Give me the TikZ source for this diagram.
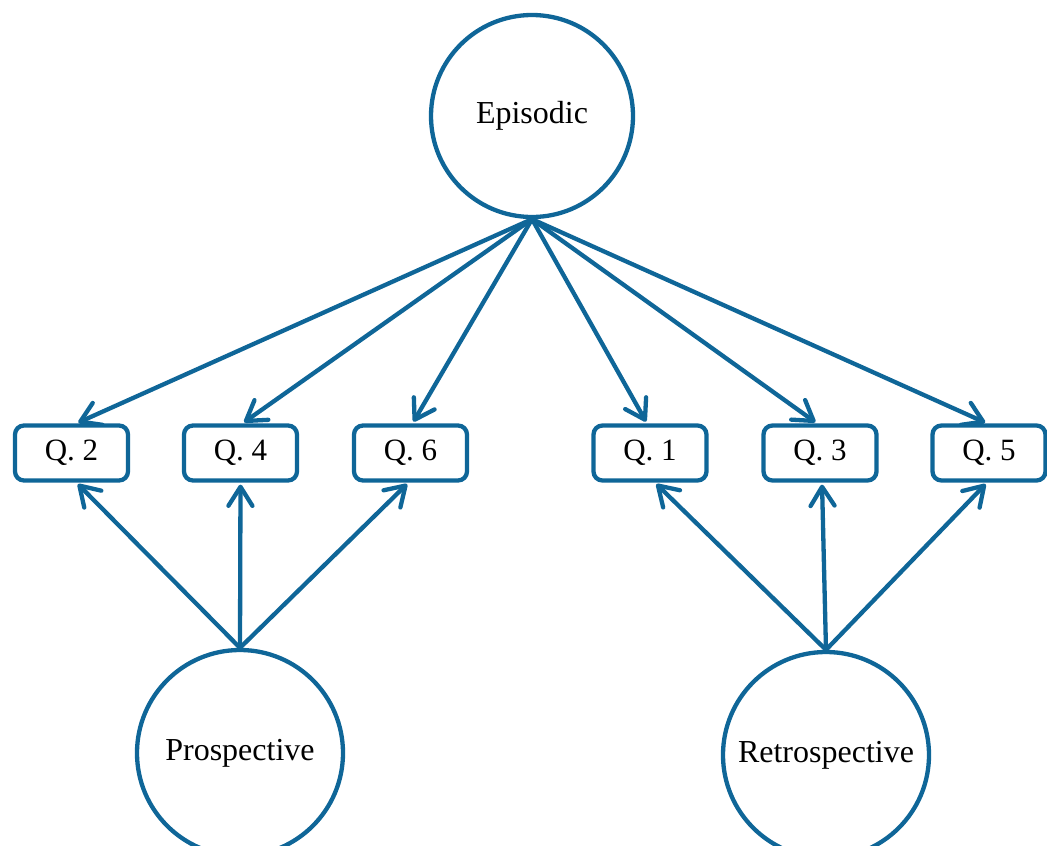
\documentclass[tikz,border=0pt]{standalone}
\usepackage{fontspec}
\setmainfont{Liberation Serif}
\usetikzlibrary{arrows.meta,calc}
\definecolor{sembl}{HTML}{0F6698}
\begin{document}
\begin{tikzpicture}[x=1pt,y=-1pt,
  latent/.style={circle,draw=sembl,line width=4.3pt,fill=white,inner sep=0pt,font=\fontsize{32}{36}\selectfont},
  obs/.style={rectangle,rounded corners=9pt,draw=sembl,line width=4.3pt,fill=white,minimum width=113pt,minimum height=55pt,inner sep=0pt,font=\fontsize{31}{36}\selectfont},
  load/.style={draw=sembl,line width=4.3pt,-{Straight Barb[length=19pt,width=24pt,round]},shorten >=2pt}]
\useasboundingbox (0,0) rectangle (1047,846);
\clip (0,0) rectangle (1047,846);
\node[latent,minimum size=202pt] (epi) at (532,116) {Episodic};
\node[latent,minimum size=206pt] (pro) at (240,753) {Prospective};
\node[latent,minimum size=206pt] (ret) at (826,755) {Retrospective};
\node[obs] (q2) at (71.5,453) {Q. 2};
\node[obs] (q4) at (240.5,453) {Q. 4};
\node[obs] (q6) at (410.5,453) {Q. 6};
\node[obs] (q1) at (650,453) {Q. 1};
\node[obs] (q3) at (820,453) {Q. 3};
\node[obs] (q5) at (989,453) {Q. 5};
\draw[load] (epi.south) -- ($(q2.north)+(5,0)$);
\draw[load] (epi.south) -- ($(q4.north)+(2,0)$);
\draw[load] (epi.south) -- ($(q6.north)+(2,0)$);
\draw[load] (epi.south) -- ($(q1.north)+(-3,0)$);
\draw[load] (epi.south) -- ($(q3.north)+(-3,0)$);
\draw[load] (epi.south) -- ($(q5.north)+(-2,0)$);
\draw[load] (pro.north) -- ($(q2.south)+(5,0)$);
\draw[load] (pro.north) -- (q4.south);
\draw[load] (pro.north) -- ($(q6.south)+(-2,0)$);
\draw[load] (ret.north) -- ($(q1.south)+(5,0)$);
\draw[load] (ret.north) -- ($(q3.south)+(2,0)$);
\draw[load] (ret.north) -- ($(q5.south)+(-2,0)$);
\end{tikzpicture}
\end{document}
